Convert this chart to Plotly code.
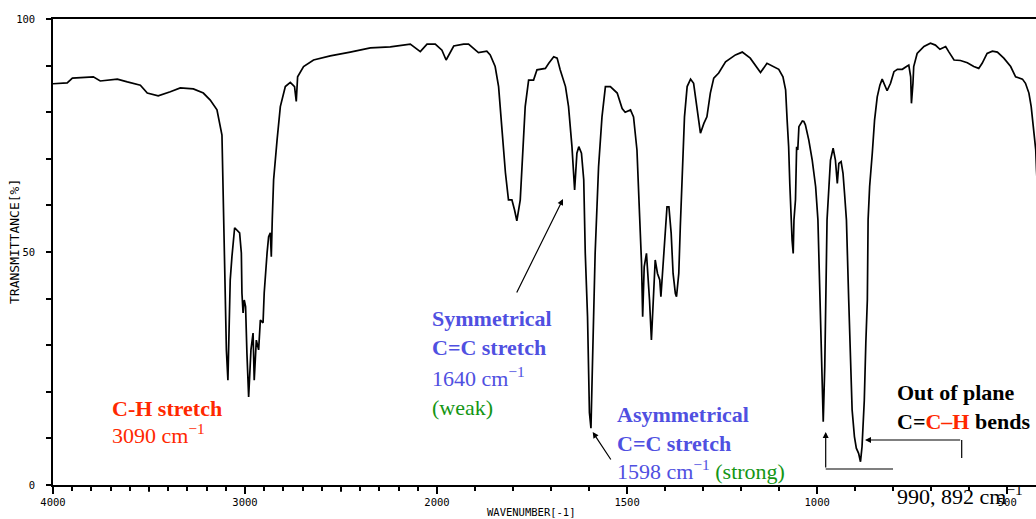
import plotly.graph_objects as go

# ---- data ----
wavenumber = [4000,3926,3899,3790,3754,3665,3613,3545,3509,3452,3389,3337,3269,3217,3181,3146,3120,3115,3106,3097,
              3089,3077,3068,3054,3028,3019,3016,3010,3004,2997,2990,2981,2969,2958,2952,2941,2929,2920,2906,2900,
              2885,2877,2868,2863,2858,2851,2833,2816,2790,2764,2742,2733,2726,2695,2643,2608,2556,2452,2347,2243,
              2139,2087,2052,2009,1987,1976,1965,1956,1930,1917,1904,1891,1869,1860,1847,1838,1829,1820,1812,1803,
              1796,1790,1781,1776,1768,1759,1746,1737,1715,1706,1693,1684,1676,1662,1654,1645,1641,1638,1632,1627,
              1620,1614,1610,1604,1599,1595,1591,1584,1575,1566,1557,1544,1526,1513,1505,1491,1483,1474,1467,1462,
              1459,1455,1449,1445,1441,1436,1430,1426,1420,1414,1411,1405,1399,1395,1390,1384,1379,1373,1370,1364,
              1360,1355,1349,1342,1333,1325,1318,1307,1298,1290,1281,1272,1259,1241,1215,1197,1176,1162,1149,1132,
              1114,1101,1090,1083,1079,1075,1072,1069,1066,1063,1061,1057,1054,1051,1048,1039,1035,1031,1022,1013,
              1004,998,993,989,986,984,980,977,974,969,965,958,952,947,943,937,932,928,923,917,
              912,908,902,897,891,886,882,879,876,872,868,866,862,855,849,842,835,829,823,816,
              807,798,789,776,765,759,754,752,748,746,737,719,702,689,677,662,654,640,623,605,
              588,575,566,553,539,526,509,491,478,460,452,443,437,430,425,423,415]
transmittance = [86.1,86.3,87.3,87.6,86.7,87.1,86.5,85.8,84.1,83.5,84.4,85.2,85.0,84.1,82.6,80.5,75.1,64.8,50.4,29.0,
                 22.5,44.0,49.0,55.2,54.1,49.8,41.2,36.9,39.7,38.3,28.3,18.9,29.0,32.6,22.5,31.1,29.0,35.4,34.8,41.2,
                 49.8,53.3,54.1,49.0,56.9,65.5,74.0,81.2,85.5,86.4,85.5,82.3,87.6,89.8,91.2,91.6,92.1,92.9,93.8,94.0,
                 94.6,93.0,94.6,94.6,93.3,91.2,93.0,94.2,94.6,94.6,93.7,92.8,93.1,92.3,89.8,85.5,76.2,67.0,61.2,61.2,
                 59.0,56.7,61.2,69.7,81.2,86.9,86.9,89.1,89.4,90.5,91.9,91.6,89.1,85.5,81.2,72.6,65.5,63.3,71.2,72.6,
                 71.2,65.5,49.8,36.1,15.5,12.2,26.2,49.8,68.3,79.0,85.5,85.5,84.1,80.8,80.0,80.5,79.0,71.9,57.6,47.6,
                 36.1,46.8,49.7,45.4,39.7,31.1,42.6,48.3,45.4,44.0,40.4,48.3,54.0,59.7,59.7,54.0,45.4,41.1,40.4,45.4,
                 55.4,68.3,79.0,85.5,87.1,86.2,81.9,75.5,77.6,79.0,84.1,87.3,88.4,90.8,92.3,92.9,91.6,89.9,88.5,90.5,
                 89.8,89.2,87.6,84.8,78.3,72.6,64.7,56.9,52.6,49.7,56.9,61.2,72.6,71.9,76.9,78.1,78.0,77.3,74.0,69.7,
                 64.0,56.9,39.7,25.4,18.2,13.6,25.4,39.7,56.9,64.0,69.7,72.3,69.7,64.7,69.0,69.4,66.9,62.6,56.9,39.7,
                 25.4,16.1,10.4,7.9,6.8,5.0,8.2,12.5,18.2,30.4,39.7,56.9,64.0,71.2,78.3,83.3,85.8,87.1,85.8,84.6,
                 86.2,88.7,89.2,89.2,89.8,90.1,87.6,81.9,86.2,89.8,92.6,94.1,94.8,94.4,93.5,94.1,93.0,91.2,91.1,90.6,
                 89.8,89.4,90.5,92.6,93.1,92.9,91.6,89.8,87.6,87.1,86.2,84.1,81.2,75.5,71.9,67.6,55.0]

x_labeled = [4000, 3000, 2000, 1500, 1000, 500]
x_labels = ["4000", "3000", "2000", "1500", "1000", "500"]
x_unlabeled_major = [3500, 2500]
x_minor = list(range(4000, 399, -100))
y_labeled = [0, 50, 100]
y_labels = ["0", "50", "100"]
y_minor = list(range(0, 101, 10))


def to_axis(wn):
    # spectrometer chart: 4000-2000 compressed, below 2000 expanded (approx. x2)
    return 4000 - wn if wn >= 2000 else 2000 + 1.98 * (2000 - wn)


W, H = 1036, 519
ML, MR, MT, MB = 53, 0, 19, 34
PW, PH = W - ML - MR, H - MT - MB


def P(px, py):
    return (px - ML) / PW, (H - MB - py) / PH


fig = go.Figure()
fig.add_trace(go.Scatter(
    x=[to_axis(w) for w in wavenumber], y=transmittance,
    mode="lines", line=dict(color="black", width=1.7), showlegend=False,
    hoverinfo="skip"))

tick_font = dict(family="DejaVu Sans Mono", size=10.5, color="black")
fig.update_layout(
    width=W, height=H, margin=dict(l=ML, r=MR, t=MT, b=MB, autoexpand=False),
    paper_bgcolor="white", plot_bgcolor="white", showlegend=False,
    xaxis=dict(range=[0, PW / 0.192], showgrid=False, zeroline=False, automargin=False,
               showline=True, linecolor="black", linewidth=1.5, mirror=True,
               ticks="outside", ticklen=7, tickwidth=1.5, tickcolor="black",
               tickvals=[to_axis(v) for v in x_labeled], ticktext=x_labels,
               tickfont=tick_font,
               minor=dict(tickvals=[to_axis(v) for v in x_minor], ticks="outside",
                          ticklen=4, tickwidth=1.5, tickcolor="black", showgrid=False)),
    yaxis=dict(range=[0, 100], showgrid=False, zeroline=False, automargin=False,
               showline=True, linecolor="black", linewidth=1.5,
               ticks="outside", ticklen=5, tickwidth=1.5, tickcolor="black",
               tickvals=y_labeled, ticktext=y_labels, tickfont=tick_font,
               ticklabelstandoff=9,
               minor=dict(tickvals=y_minor, ticks="outside", ticklen=5, tickwidth=1.5,
                          tickcolor="black", showgrid=False)),
)

# longer (unlabelled) major ticks at 3500 and 2500
for v in x_unlabeled_major:
    fig.add_shape(type="line", xref="x", yref="paper", x0=to_axis(v), x1=to_axis(v),
                  y0=0, y1=-7 / PH, line=dict(color="black", width=1.5))

RED = "rgb(255,40,0)"
BLUE = "rgb(80,80,225)"
GREEN = "rgb(20,150,20)"
serif = "Liberation Serif"

texts = [
    ("<b>C-H stretch</b>", 110, 408, RED),
    ("3090 cm<sup>−1</sup>", 110, 434, RED),
    ("<b>Symmetrical</b>", 430, 318, BLUE),
    ("<b>C=C stretch</b>", 430, 347, BLUE),
    ("1640 cm<sup>−1</sup>", 430, 377, BLUE),
    ("(weak)", 430, 407, GREEN),
    ("<b>Asymmetrical</b>", 615, 414, BLUE),
    ("<b>C=C stretch</b>", 615, 443, BLUE),
    ("1598 cm<sup>−1</sup> <span style='color:" + GREEN + "'>(strong)</span>", 615, 470, BLUE),
    ("<b>Out of plane</b>", 895, 392, "black"),
    ("<b>C=<span style='color:" + RED + "'>C–H</span> bends</b>", 895, 421, "black"),
    ("990, 892 cm<sup>−1</sup>", 895, 495, "black"),
]
for t, px, py, col in texts:
    x, y = P(px, py)
    fig.add_annotation(x=x, y=y, xref="paper", yref="paper", text=t, showarrow=False,
                       xanchor="left", yanchor="middle",
                       font=dict(family=serif, size=22, color=col))

# axis titles
x, y = P(531, 512)
fig.add_annotation(x=x, y=y, xref="paper", yref="paper", text="WAVENUMBER[-1]", showarrow=False,
                   xanchor="center", yanchor="middle",
                   font=dict(family="DejaVu Sans Mono", size=10.5, color="black"))
x, y = P(14, 242)
fig.add_annotation(x=x, y=y, xref="paper", yref="paper", text="TRANSMITTANCE[%]", showarrow=False,
                   xanchor="center", yanchor="middle", textangle=-90,
                   font=dict(family="DejaVu Sans Mono", size=13, color="black"))

# arrows (head, tail) in pixels
arrows = [((563, 199), (516, 294)),
          ((592.7, 432), (611.8, 461)),
          ((825.7, 432), (825.7, 469)),
          ((865, 440), (961.7, 440))]
for (hx, hy), (tx, ty) in arrows:
    x, y = P(hx, hy)
    fig.add_annotation(x=x, y=y, xref="paper", yref="paper", text="", showarrow=True,
                       ax=tx - hx, ay=ty - hy, arrowhead=2, arrowsize=1, arrowwidth=1.2,
                       arrowcolor="black", standoff=0)

# bracket segments
for (x0p, y0p), (x1p, y1p) in [((825.7, 469), (893, 469)), ((961.7, 440), (961.7, 458))]:
    x0, y0 = P(x0p, y0p)
    x1, y1 = P(x1p, y1p)
    fig.add_shape(type="line", xref="paper", yref="paper", x0=x0, y0=y0, x1=x1, y1=y1,
                  line=dict(color="black", width=1.2))

fig.write_html("out.html", config={"displayModeBar": False},
               post_script="document.body.style.margin='0';document.body.style.overflow='hidden';")
